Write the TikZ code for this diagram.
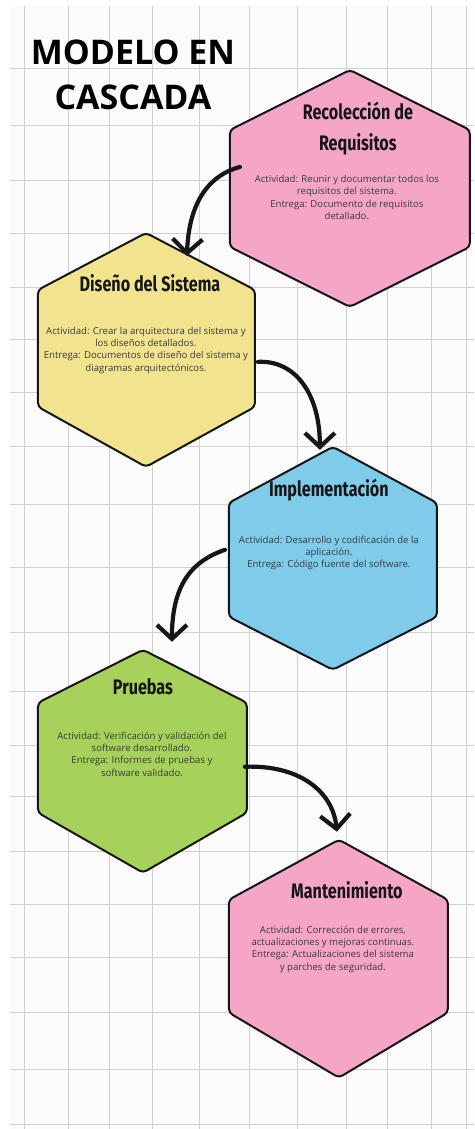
\documentclass[tikz,border=0pt]{standalone}
\usepackage{fontspec}
\setmainfont{Open Sans}
\newfontfamily\stagefont{Fira Sans}
\usetikzlibrary{arrows.meta}

\definecolor{paper}{HTML}{FBFBFB}
\definecolor{gridline}{HTML}{D0D0D0}
\definecolor{rosa}{HTML}{F5A6C6}
\definecolor{amarillo}{HTML}{F2E48E}
\definecolor{celeste}{HTML}{7FCBEA}
\definecolor{verde}{HTML}{A6D15A}
\definecolor{bodytext}{HTML}{3A3A3A}
\definecolor{ink}{HTML}{161616}

% condensed lettering for the stage headings
\newcommand{\narrow}[1]{\scalebox{0.77}[1]{#1}}

\tikzset{
  hexagon/.style={draw=ink, line width=2pt, rounded corners=4pt, line join=round},
  stagetitle/.style={anchor=north, inner sep=0pt, align=center, text=ink,
    font=\stagefont\bfseries\fontsize{21}{31}\selectfont},
  stagebody/.style={anchor=north, inner sep=0pt, align=center, text=bodytext,
    font=\fontsize{9.6}{12.3}\selectfont},
  maintitle/.style={anchor=north, inner sep=0pt, align=center, text=black,
    font=\bfseries\fontsize{34}{45}\selectfont},
  flow/.style={line width=4.2pt, line cap=round, draw=ink,
    -{Straight Barb[length=14pt,width=30pt]}},
  gridmajor/.style={draw=gridline, line width=0.8pt},
}

\begin{document}
\begin{tikzpicture}[x=1pt,y=-1pt]
% page and squared paper
\fill[white] (0,0) rectangle (474,1129);
\fill[paper] (10,6) rectangle (474,1129);
\foreach \gx in {24,68,109,152,199,249,298,347,388,432,467}
  \draw[gridmajor] (\gx,6) -- (\gx,1129);
\foreach \gy in {68,125,180,233,287,340,393,447,505,568,633,692,746,797,852,905,958,1013,1070,1125}
  \draw[gridmajor] (10,\gy) -- (474,\gy);
\useasboundingbox (0,0) rectangle (474,1129);

% heading
\node[maintitle] (title) at (133,40) {MODELO EN\\CASCADA};

% stage 1
\draw[hexagon, fill=rosa] (350,70) coordinate (rec-n) -- (470,130) -- (470,247)
  -- (350,307) coordinate (rec-s) -- (230,247) -- (230,130) -- cycle;
\node[stagetitle] (rec-title) at (358,102) {\narrow{Recolección de}\\\narrow{Requisitos}};
\node[stagebody] (rec-body) at (347,175) {Actividad: Reunir y documentar todos los\\requisitos del sistema.\\Entrega: Documento de requisitos\\detallado.};
\coordinate (rec-out) at (240,167);

% stage 2
\draw[hexagon, fill=amarillo] (146,233) coordinate (dis-n) -- (255,290) -- (255,407)
  -- (146,467) coordinate (dis-s) -- (38,407) -- (38,290) -- cycle;
\node[stagetitle] (dis-title) at (150,274) {\narrow{Diseño del Sistema}};
\node[stagebody] (dis-body) at (146,327) {Actividad: Crear la arquitectura del sistema y\\los diseños detallados.\\Entrega: Documentos de diseño del sistema y\\diagramas arquitectónicos.};
\coordinate (dis-in) at (187,256);
\coordinate (dis-out) at (258,362);

% stage 3
\draw[hexagon, fill=celeste] (333,447) coordinate (imp-n) -- (437,503) -- (437,617)
  -- (333,670) coordinate (imp-s) -- (229,617) -- (229,503) -- cycle;
\node[stagetitle] (imp-title) at (329,479) {\narrow{Implementación}};
\node[stagebody] (imp-body) at (329,536) {Actividad: Desarrollo y codificación de la\\aplicación.\\Entrega: Código fuente del software.};
\coordinate (imp-in) at (320,450);
\coordinate (imp-out) at (225,550);

% stage 4
\draw[hexagon, fill=verde] (143,650) coordinate (pru-n) -- (247,703) -- (247,813)
  -- (143,873) coordinate (pru-s) -- (38,813) -- (38,703) -- cycle;
\node[stagetitle] (pru-title) at (143,679) {\narrow{Pruebas}};
\node[stagebody] (pru-body) at (142,732) {Actividad: Verificación y validación del\\software desarrollado.\\Entrega: Informes de pruebas y\\software validado.};
\coordinate (pru-in) at (172,642);
\coordinate (pru-out) at (245,767);

% stage 5
\draw[hexagon, fill=rosa] (339,840) coordinate (man-n) -- (448,900) -- (448,1013)
  -- (339,1078) coordinate (man-s) -- (229,1013) -- (229,900) -- cycle;
\node[stagetitle] (man-title) at (347,882) {\narrow{Mantenimiento}};
\node[stagebody] (man-body) at (333,926) {Actividad: Corrección de errores,\\actualizaciones y mejoras continuas.\\Entrega: Actualizaciones del sistema\\y parches de seguridad.};
\coordinate (man-in) at (337,832);

% connectors between stages
\draw[flow] (rec-out) .. controls +(-30,8) and +(2,-55) .. (dis-in);
\draw[flow] (dis-out) .. controls +(38,-2) and +(0,-55) .. (imp-in);
\draw[flow] (imp-out) .. controls +(-35,12) and +(0,-55) .. (pru-in);
\draw[flow] (pru-out) .. controls +(55,-2) and +(-4,-40) .. (man-in);
\end{tikzpicture}
\end{document}
